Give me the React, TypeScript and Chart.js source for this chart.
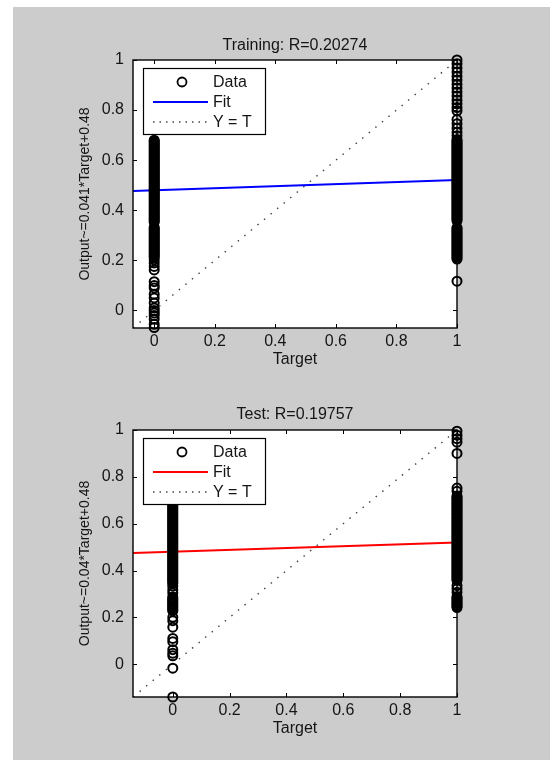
import React, { useEffect, useRef } from "react";
import { Chart, registerables } from "chart.js";

Chart.register(...registerables);

const FONT_FAMILY = '"Liberation Sans", Arial, Helvetica, sans-serif';
const TEXT_COLOR = "#151515";
const AXIS_TICKS = [0, 0.2, 0.4, 0.6, 0.8, 1];
const LEGEND_LABELS = ["Data", "Fit", "Y = T"];
const X_TITLE = "Target";

// ---------- Training panel ----------
const TRAIN_TITLE = "Training: R=0.20274";
const TRAIN_YLABEL = "Output~=0.041*Target+0.48";
const TRAIN_LIMIT_MIN = -0.07;
const TRAIN_SLOPE = 0.041;
const TRAIN_INTERCEPT = 0.48;
const TRAIN_FIT_COLOR = "#0000ff";
// outputs for target = 0
const TRAIN_OUT_T0 = [
  -0.068, -0.055, -0.035, -0.02, -0.01, 0.0, 0.01, 0.03, 0.05, 0.065, 0.09, 0.1, 0.115,
  0.162, 0.176, 0.19, 0.202,
  0.212, 0.217, 0.223, 0.228, 0.234, 0.239, 0.245, 0.25, 0.256, 0.261, 0.267, 0.272, 0.278,
  0.283, 0.289, 0.294, 0.3, 0.305, 0.311, 0.316, 0.322, 0.327, 0.332,
  0.352, 0.357, 0.363, 0.368, 0.374, 0.379, 0.385, 0.39, 0.396, 0.401, 0.407, 0.412, 0.418,
  0.423, 0.429, 0.434, 0.44, 0.445, 0.451, 0.456, 0.462, 0.467, 0.473, 0.478, 0.484, 0.489,
  0.495, 0.5, 0.506, 0.511, 0.517, 0.522, 0.528, 0.533, 0.539, 0.544, 0.55, 0.555, 0.561,
  0.566, 0.572, 0.577, 0.583, 0.588, 0.594, 0.599, 0.605, 0.61, 0.616, 0.621, 0.627, 0.632,
  0.638, 0.643, 0.649, 0.654, 0.66, 0.665, 0.671, 0.676, 0.68,
];
// outputs for target = 1
const TRAIN_OUT_T1 = [
  1.0, 0.985, 0.968, 0.952, 0.935, 0.92, 0.903, 0.888, 0.872, 0.856, 0.84, 0.825, 0.81, 0.797,
  0.762, 0.745, 0.728, 0.712, 0.698,
  0.683, 0.677, 0.672, 0.666, 0.661, 0.655, 0.65, 0.644, 0.639, 0.633, 0.628, 0.622, 0.617,
  0.611, 0.606, 0.6, 0.595, 0.589, 0.584, 0.578, 0.573, 0.567, 0.562, 0.556, 0.551, 0.545,
  0.54, 0.534, 0.529, 0.523, 0.518, 0.512, 0.507, 0.501, 0.496, 0.49, 0.485, 0.479, 0.474,
  0.468, 0.463, 0.457, 0.452, 0.446, 0.441, 0.435, 0.43, 0.424, 0.419, 0.413, 0.408, 0.402,
  0.397, 0.391, 0.386, 0.38, 0.375, 0.369, 0.364, 0.358,
  0.331, 0.326, 0.32, 0.315, 0.309, 0.304, 0.298, 0.293, 0.287, 0.282, 0.276, 0.271, 0.265,
  0.26, 0.254, 0.249, 0.243, 0.238, 0.232, 0.227, 0.221, 0.216, 0.21, 0.205,
  0.117,
];

// ---------- Test panel ----------
const TEST_TITLE = "Test: R=0.19757";
const TEST_YLABEL = "Output~=0.04*Target+0.48";
const TEST_LIMIT_MIN = -0.14;
const TEST_SLOPE = 0.04;
const TEST_INTERCEPT = 0.48;
const TEST_FIT_COLOR = "#ff0000";
const TEST_OUT_T0 = [
  0.687, 0.681, 0.675, 0.669, 0.663, 0.657, 0.651, 0.645, 0.639, 0.633, 0.627, 0.621, 0.615,
  0.609, 0.603, 0.597, 0.591, 0.585, 0.579, 0.573, 0.567, 0.561, 0.555, 0.549, 0.543, 0.537,
  0.531, 0.525, 0.519, 0.513, 0.507, 0.501, 0.495, 0.489, 0.483, 0.477, 0.471, 0.465, 0.459,
  0.453, 0.447, 0.441, 0.435, 0.429, 0.423, 0.417, 0.411, 0.405, 0.399, 0.393, 0.387, 0.381,
  0.375, 0.369, 0.363, 0.357, 0.351, 0.345,
  0.333, 0.318, 0.304,
  0.287, 0.281, 0.275, 0.269, 0.263, 0.257, 0.251, 0.245, 0.239, 0.233, 0.228,
  0.2, 0.186, 0.158, 0.11, 0.096, 0.062, 0.047, 0.036, -0.017, -0.14,
];
const TEST_OUT_T1 = [
  0.995, 0.978, 0.963, 0.948, 0.9, 0.752, 0.738,
  0.718, 0.712, 0.706, 0.7, 0.694, 0.688, 0.682, 0.676, 0.67, 0.664, 0.658, 0.652, 0.646,
  0.64, 0.634, 0.628, 0.622, 0.616, 0.61, 0.604, 0.598, 0.592, 0.586, 0.58, 0.574, 0.568,
  0.562, 0.556, 0.55, 0.544, 0.538, 0.532, 0.526, 0.52, 0.514, 0.508, 0.502, 0.496, 0.49,
  0.484, 0.478, 0.472, 0.466, 0.46, 0.454, 0.448, 0.442, 0.436, 0.43, 0.424, 0.418, 0.412,
  0.406, 0.4, 0.394, 0.388, 0.382, 0.376, 0.37, 0.364, 0.358,
  0.336, 0.322, 0.307,
  0.289, 0.283, 0.277, 0.271, 0.265, 0.259, 0.253, 0.247, 0.242,
];

type PanelSpec = {
  title: string;
  ylabel: string;
  min: number;
  slope: number;
  intercept: number;
  fitColor: string;
  out0: number[];
  out1: number[];
  canvasHeight: number;
  areaTop: number;
  titleGap: number;
  xAxisHeight: number;
  xTitlePadBottom: number;
};

const matlabAxesPlugin = {
  id: "matlabAxes",
  beforeDatasetsDraw(chart: any) {
    const { ctx, chartArea: a } = chart;
    ctx.save();
    ctx.fillStyle = "#ffffff";
    ctx.fillRect(a.left, a.top, a.right - a.left, a.bottom - a.top);
    ctx.restore();
  },
  afterDatasetsDraw(chart: any, _args: any, opts: any) {
    const { ctx, chartArea: a, scales } = chart;
    const xs = scales.x;
    const ys = scales.y;
    ctx.save();
    // axes title, centred over the axes box
    ctx.font = `16px ${FONT_FAMILY}`;
    ctx.fillStyle = TEXT_COLOR;
    ctx.textAlign = "center";
    ctx.textBaseline = "middle";
    ctx.fillText(opts.title, (a.left + a.right) / 2, a.top - opts.titleGap);

    // axes box
    ctx.strokeStyle = "#000000";
    ctx.lineWidth = 1.4;
    ctx.strokeRect(a.left, a.top, a.right - a.left, a.bottom - a.top);
    // inward ticks on all sides
    ctx.lineWidth = 1;
    ctx.beginPath();
    for (const v of AXIS_TICKS) {
      const px = Math.round(xs.getPixelForValue(v)) + 0.5;
      ctx.moveTo(px, a.bottom);
      ctx.lineTo(px, a.bottom - 4);
      ctx.moveTo(px, a.top);
      ctx.lineTo(px, a.top + 4);
      const py = Math.round(ys.getPixelForValue(v)) + 0.5;
      ctx.moveTo(a.left, py);
      ctx.lineTo(a.left + 4, py);
      ctx.moveTo(a.right, py);
      ctx.lineTo(a.right - 4, py);
    }
    ctx.stroke();

    // legend box
    const lx = a.left + 10;
    const ly = a.top + 8;
    const lw = 122;
    const lh = 66;
    ctx.fillStyle = "#ffffff";
    ctx.fillRect(lx, ly, lw, lh);
    ctx.strokeStyle = "#000000";
    ctx.lineWidth = 1.2;
    ctx.strokeRect(lx + 0.5, ly + 0.5, lw, lh);
    const rows = [ly + 14, ly + 34, ly + 54];
    // Data marker
    ctx.beginPath();
    ctx.arc(lx + 39, rows[0], 4.5, 0, Math.PI * 2);
    ctx.lineWidth = 1.8;
    ctx.strokeStyle = "#000000";
    ctx.stroke();
    // Fit sample
    ctx.beginPath();
    ctx.moveTo(lx + 10, rows[1]);
    ctx.lineTo(lx + 65, rows[1]);
    ctx.strokeStyle = opts.fitColor;
    ctx.lineWidth = 2;
    ctx.stroke();
    // Y = T sample
    ctx.beginPath();
    ctx.setLineDash([1.5, 5]);
    ctx.moveTo(lx + 10, rows[2]);
    ctx.lineTo(lx + 65, rows[2]);
    ctx.strokeStyle = "#444444";
    ctx.lineWidth = 1.3;
    ctx.stroke();
    ctx.setLineDash([]);
    // labels
    ctx.font = `16px ${FONT_FAMILY}`;
    ctx.fillStyle = TEXT_COLOR;
    ctx.textBaseline = "middle";
    ctx.textAlign = "left";
    LEGEND_LABELS.forEach((t, i) => ctx.fillText(t, lx + 70, rows[i] + 1));
    ctx.restore();
  },
};

function buildConfig(p: PanelSpec): any {
  const lo = p.min;
  const dataPoints = [
    ...p.out0.map((y) => ({ x: 0, y })),
    ...p.out1.map((y) => ({ x: 1, y })),
  ];
  const fitPoints = [
    { x: lo, y: p.intercept + p.slope * lo },
    { x: 1, y: p.intercept + p.slope * 1 },
  ];
  const identityPoints = [
    { x: lo, y: lo },
    { x: 1, y: 1 },
  ];
  const tickFont = { family: FONT_FAMILY, size: 16 };
  return {
    type: "scatter",
    data: {
      datasets: [
        {
          label: LEGEND_LABELS[0],
          data: dataPoints,
          showLine: false,
          pointStyle: "circle",
          pointRadius: 4.5,
          pointBorderWidth: 2,
          pointBorderColor: "#000000",
          pointBackgroundColor: "rgba(0,0,0,0)",
          clip: false,
          order: 0,
        },
        {
          label: LEGEND_LABELS[1],
          data: fitPoints,
          showLine: true,
          borderColor: p.fitColor,
          borderWidth: 2,
          pointRadius: 0,
          order: 1,
        },
        {
          label: LEGEND_LABELS[2],
          data: identityPoints,
          showLine: true,
          borderColor: "#444444",
          borderWidth: 1.4,
          borderDash: [1.5, 7],
          pointRadius: 0,
          order: 2,
        },
      ],
    },
    options: {
      animation: false,
      responsive: false,
      devicePixelRatio: 1,
      events: [],
      layout: { autoPadding: false, padding: { left: 0, right: 93, top: p.areaTop, bottom: 0 } },
      plugins: {
        legend: { display: false },
        tooltip: { enabled: false },
        title: { display: false },
        matlabAxes: { fitColor: p.fitColor, title: p.title, titleGap: p.titleGap },
      },
      scales: {
        x: {
          type: "linear",
          min: lo,
          max: 1,
          afterBuildTicks: (s: any) => {
            s.ticks = AXIS_TICKS.map((v) => ({ value: v }));
          },
          afterFit: (s: any) => {
            s.height = p.xAxisHeight;
          },
          grid: { display: false, drawTicks: false, tickLength: 0 },
          border: { display: false },
          ticks: {
            autoSkip: false,
            maxRotation: 0,
            padding: 4,
            color: TEXT_COLOR,
            font: tickFont,
            callback: (v: any) => String(v),
          },
          title: {
            display: true,
            text: X_TITLE,
            color: TEXT_COLOR,
            font: tickFont,
            padding: { top: 0, bottom: p.xTitlePadBottom },
          },
        },
        y: {
          type: "linear",
          min: lo,
          max: 1,
          afterBuildTicks: (s: any) => {
            s.ticks = AXIS_TICKS.map((v) => ({ value: v }));
          },
          afterFit: (s: any) => {
            s.width = 120;
          },
          grid: { display: false, drawTicks: false, tickLength: 0 },
          border: { display: false },
          ticks: {
            autoSkip: false,
            padding: 9,
            color: TEXT_COLOR,
            font: tickFont,
            callback: (v: any) => String(v),
          },
          title: {
            display: true,
            text: p.ylabel,
            color: TEXT_COLOR,
            font: { family: FONT_FAMILY, size: 14 },
            padding: { top: 63.6, bottom: 0 },
          },
        },
      },
    },
    plugins: [matlabAxesPlugin],
  };
}

const TRAIN_SPEC: PanelSpec = {
  title: TRAIN_TITLE,
  ylabel: TRAIN_YLABEL,
  min: TRAIN_LIMIT_MIN,
  slope: TRAIN_SLOPE,
  intercept: TRAIN_INTERCEPT,
  fitColor: TRAIN_FIT_COLOR,
  out0: TRAIN_OUT_T0,
  out1: TRAIN_OUT_T1,
  canvasHeight: 376,
  areaTop: 53,
  titleGap: 14,
  xAxisHeight: 55,
  xTitlePadBottom: 14,
};

const TEST_SPEC: PanelSpec = {
  title: TEST_TITLE,
  ylabel: TEST_YLABEL,
  min: TEST_LIMIT_MIN,
  slope: TEST_SLOPE,
  intercept: TEST_INTERCEPT,
  fitColor: TEST_FIT_COLOR,
  out0: TEST_OUT_T0,
  out1: TEST_OUT_T1,
  canvasHeight: 377,
  areaTop: 47,
  titleGap: 15,
  xAxisHeight: 63,
  xTitlePadBottom: 22,
};

function RegressionPanel({ spec, top }: { spec: PanelSpec; top: number }) {
  const ref = useRef<HTMLCanvasElement>(null);
  useEffect(() => {
    if (!ref.current) return;
    const chart = new Chart(ref.current, buildConfig(spec));
    return () => chart.destroy();
  }, [spec]);
  return (
    <canvas
      ref={ref}
      width={537}
      height={spec.canvasHeight}
      style={{ position: "absolute", left: 13, top, width: 537, height: spec.canvasHeight, display: "block" }}
    />
  );
}

export default function App() {
  return (
    <div style={{ position: "absolute", left: 0, top: 0, width: 552, height: 760, background: "#ffffff", overflow: "hidden" }}>
      <div style={{ position: "absolute", left: 13, top: 7, width: 537, height: 753, background: "#cccccc" }} />
      <RegressionPanel spec={TRAIN_SPEC} top={7} />
      <RegressionPanel spec={TEST_SPEC} top={383} />
    </div>
  );
}
